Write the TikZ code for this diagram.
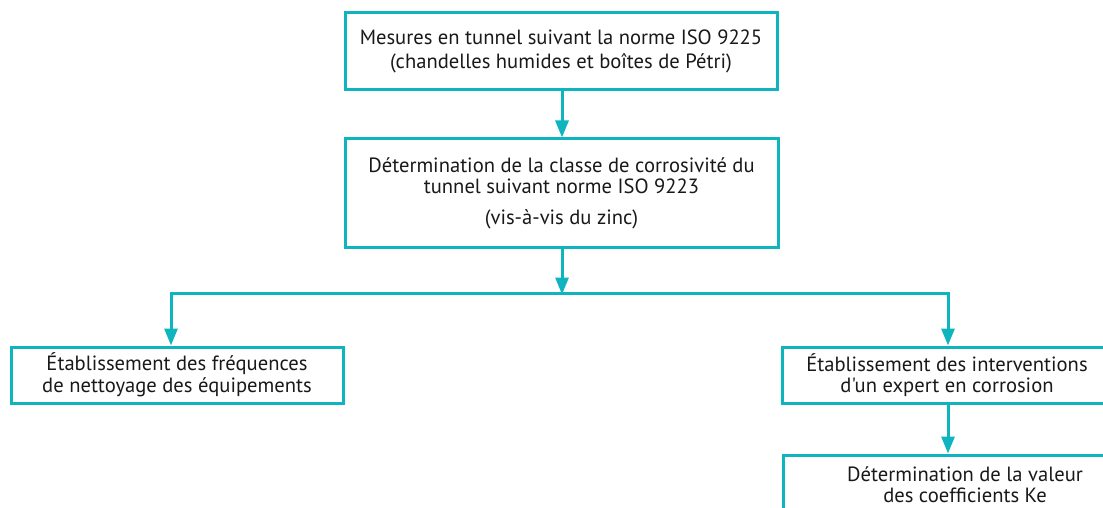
\documentclass[tikz,border=0pt]{standalone}
\usepackage{fontspec}
\newfontfamily\ptsans{PT Sans}
\usetikzlibrary{arrows.meta}
\definecolor{teal}{RGB}{14,180,190}
\tikzset{
  box/.style={draw=teal, line width=3pt, rectangle, inner sep=0pt, align=center,
    font=\ptsans\fontsize{20.6}{24}\selectfont, text=black!90},
  link/.style={draw=teal, line width=3pt},
  arr/.style={link, -{Triangle[length=17pt,width=13pt]}}
}
\begin{document}
\begin{tikzpicture}[x=1pt,y=-1pt]
\useasboundingbox (0,0) rectangle (1103,508);
\clip (0,0) rectangle (1103,508);
\node[box, minimum width=432pt, minimum height=77pt] (b1) at (561,51.5)
  {Mesures en tunnel suivant la norme ISO 9225\\(chandelles humides et boîtes de Pétri)};
\node[box, minimum width=433pt, minimum height=108pt] (b2) at (561.5,193)
  {Détermination de la classe de corrosivité du\\[-3pt]tunnel suivant norme ISO 9223\\[7pt](vis-à-vis du zinc)};
\node[box, minimum width=332pt, minimum height=56pt] (b3) at (177,375)
  {Établissement des fréquences\\[-2pt]de nettoyage des équipements};
\node[box, minimum width=330pt, minimum height=56pt] (b4) at (947,375)
  {Établissement des interventions\\[-3pt]d'un expert en corrosion};
\node[box, minimum width=364pt, minimum height=60pt] (b5) at (965,485)
  {Détermination de la valeur\\[-3pt]des coefficients Ke};
\coordinate (j) at (562,293);
\coordinate (jl) at (171,293);
\coordinate (jr) at (948,293);
\draw[arr] (b1.south -| 562,0) -- (b2.north -| 562,0);
\draw[arr] (b2.south -| j) -- ([yshift=-1.5pt]j);
\draw[link] (jl) -- (jr);
\draw[arr] ([yshift=1.5pt]jl) -- (jl |- b3.north);
\draw[arr] ([yshift=1.5pt]jr) -- (jr |- b4.north);
\draw[arr] (b4.south -| jr) -- (jr |- b5.north);
\end{tikzpicture}
\end{document}
